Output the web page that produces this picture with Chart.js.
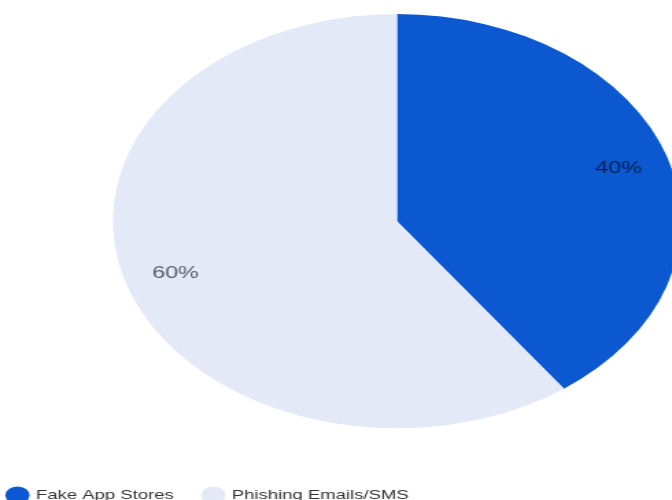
<!DOCTYPE html>
<html>
<head>
<meta charset="utf-8">
<script src="https://cdn.jsdelivr.net/npm/chart.js@4"></script>
<style>
  html, body { margin: 0; padding: 0; background: #fff; overflow: hidden; width: 672px; height: 500px; }
  #sourcesChart { display: block; margin-left: -22px; }
</style>
</head>
<body>
<canvas id="sourcesChart" width="611" height="512" style="width:838px;height:512px"></canvas>
<script>
const categories = ['Fake App Stores', 'Phishing Emails/SMS'];
const shares = [40, 60];
const sliceColors = ['#0b58d1', '#e4e9f7'];

// percentage text inside each slice
const sliceLabels = {
    id: 'sliceLabels',
    afterDatasetsDraw(chart) {
        const ctx = chart.ctx;
        const meta = chart.getDatasetMeta(0);
        ctx.save();
        ctx.font = '17px Arial, sans-serif';
        ctx.fillStyle = 'rgba(0, 0, 0, 0.62)';
        ctx.textAlign = 'center';
        ctx.textBaseline = 'middle';
        meta.data.forEach((arc, i) => {
            const { x, y, startAngle, endAngle, outerRadius } = arc.getProps(['x', 'y', 'startAngle', 'endAngle', 'outerRadius'], true);
            const mid = (startAngle + endAngle) / 2;
            const r = outerRadius * 0.82;
            ctx.fillText(shares[i] + '%', x + Math.cos(mid) * r, y + Math.sin(mid) * r);
        });
        ctx.restore();
    }
};

const ctx = document.getElementById('sourcesChart').getContext('2d');
const sourcesChart = new Chart(ctx, {
    type: 'pie',
    data: {
        labels: categories,
        datasets: [{
            data: shares,
            backgroundColor: sliceColors,
            borderWidth: 0
        }]
    },
    options: {
        responsive: false,
        animation: false,
        layout: {
            padding: { top: 14, left: 0, right: 0, bottom: 0 }
        },
        plugins: {
            legend: {
                position: 'bottom',
                align: 'start',
                title: {
                    display: true,
                    text: '',
                    font: { size: 10, lineHeight: 1 },
                    padding: { top: 28.25, bottom: 0 }
                },
                labels: {
                    usePointStyle: true,
                    pointStyle: 'circle',
                    boxHeight: 12.5,
                    padding: 22,
                    color: '#333',
                    font: { size: 13.5 }
                }
            },
            tooltip: { enabled: false }
        }
    },
    plugins: [sliceLabels]
});
</script>
</body>
</html>
